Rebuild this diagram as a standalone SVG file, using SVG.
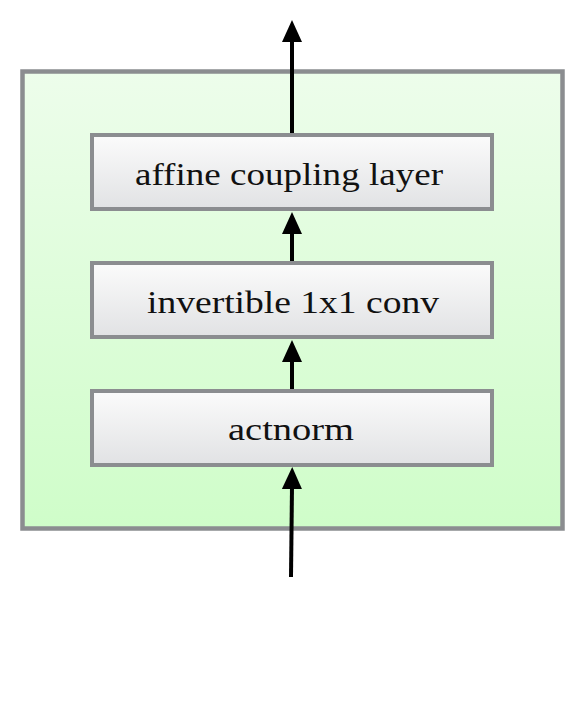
<svg xmlns="http://www.w3.org/2000/svg" width="584" height="716" viewBox="0 0 584 716">
<defs>
<linearGradient id="gGreen" x1="0" y1="0" x2="0" y2="1">
<stop offset="0" stop-color="#edfdeb"/>
<stop offset="1" stop-color="#cffdc9"/>
</linearGradient>
<linearGradient id="gBox" x1="0" y1="0" x2="0" y2="1">
<stop offset="0" stop-color="#fbfbfb"/>
<stop offset="1" stop-color="#e1e2e4"/>
</linearGradient>
<marker id="ah" viewBox="0 0 22 20" refX="2" refY="10" markerWidth="22" markerHeight="20" markerUnits="userSpaceOnUse" orient="auto">
<polygon points="0,0 22,10 0,20" fill="#000"/>
</marker>
<style>
.outer{fill:url(#gGreen);stroke:#8b8d90;stroke-width:4.5}
.box{fill:url(#gBox);stroke:#8b8d90;stroke-width:4}
.lbl{font-family:"Liberation Serif","Times New Roman",serif;font-size:32px;fill:#111;text-anchor:middle}
.conn{stroke:#000;stroke-width:4;fill:none;marker-end:url(#ah)}
</style>
</defs>
<rect width="584" height="716" fill="#fff"/>
<g id="block">
<rect class="outer" x="22.5" y="71.5" width="540" height="457"/>
</g>
<g id="connectors">
<line class="conn" x1="292" y1="133" x2="292" y2="40"/>
<line class="conn" x1="292" y1="261" x2="292" y2="232"/>
<line class="conn" x1="292" y1="389" x2="292" y2="360"/>
<line class="conn" x1="291" y1="577" x2="292" y2="487"/>
</g>
<g id="affine">
<rect class="box" x="92" y="135" width="400" height="74"/>
<text class="lbl" x="289" y="185" textLength="308" lengthAdjust="spacingAndGlyphs">affine coupling layer</text>
</g>
<g id="conv">
<rect class="box" x="92" y="263" width="400" height="74"/>
<text class="lbl" x="293" y="313" textLength="292" lengthAdjust="spacingAndGlyphs">invertible 1x1 conv</text>
</g>
<g id="actnorm">
<rect class="box" x="92" y="391" width="400" height="74"/>
<text class="lbl" x="291" y="440" textLength="126" lengthAdjust="spacingAndGlyphs">actnorm</text>
</g>
</svg>
